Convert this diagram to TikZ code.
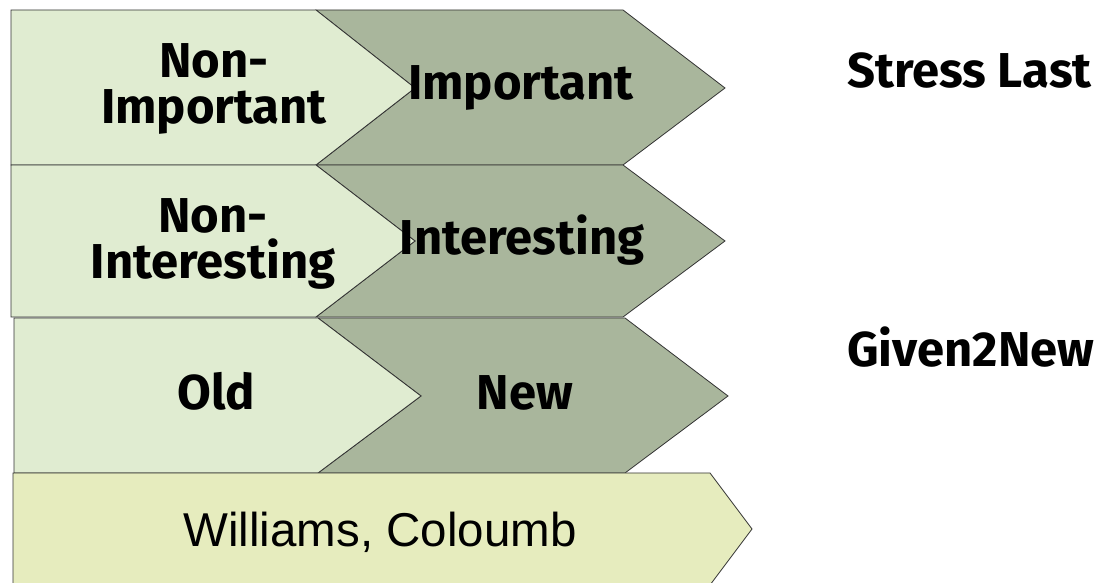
\documentclass[tikz,border=0pt]{standalone}
\usepackage{fontspec}
\setmainfont{Fira Sans}
\newfontfamily\arialfont{Liberation Sans}
\usepackage{xcolor}
\definecolor{oldgreen}{RGB}{224,236,209}
\definecolor{newgreen}{RGB}{169,182,156}
\definecolor{basegreen}{RGB}{230,236,190}
\tikzset{
  bigbold/.style={font=\fontsize{49}{46}\selectfont\bfseries, align=center, inner sep=0pt},
  plaintext/.style={font=\arialfont\fontsize{47.5}{50}\selectfont, inner sep=0pt},
  edge/.style={draw=black!80, line width=0.8pt, line join=miter}
}

\begin{document}
\begin{tikzpicture}[x=1pt,y=1pt]
\useasboundingbox (0,0) rectangle (1098,583);
\begin{scope}
\clip (0,0) rectangle (1098,583);
% row 1
\fill[newgreen] (316,573) -- (623,573) -- (725,495) -- (623,418) -- (316,418) -- (415,495) -- cycle;
\draw[edge] (316,573) -- (623,573) -- (725,495) -- (623,418) -- (316,418) -- (415,495) -- cycle;
\fill[oldgreen] (11,573) -- (316,573) -- (415,495) -- (316,418) -- (11,418) -- cycle;
\draw[edge] (11,573) -- (316,573) -- (415,495) -- (316,418) -- (11,418) -- cycle;
% row 2
\fill[newgreen] (316,418) -- (623,418) -- (725,342) -- (623,266) -- (316,266) -- (415,342) -- cycle;
\draw[edge] (316,418) -- (623,418) -- (725,342) -- (623,266) -- (316,266) -- (415,342) -- cycle;
\fill[oldgreen] (11,418) -- (316,418) -- (415,342) -- (316,266) -- (11,266) -- cycle;
\draw[edge] (11,418) -- (316,418) -- (415,342) -- (316,266) -- (11,266) -- cycle;
% row 3
\fill[newgreen] (318,265) -- (625,265) -- (728,187) -- (625,110) -- (318,110) -- (421,187) -- cycle;
\draw[edge] (318,265) -- (625,265) -- (728,187) -- (625,110) -- (318,110) -- (421,187) -- cycle;
\fill[oldgreen] (14,265) -- (318,265) -- (421,187) -- (318,110) -- (14,110) -- cycle;
\draw[edge] (14,265) -- (318,265) -- (421,187) -- (318,110) -- (14,110) -- cycle;
% base bar
\fill[basegreen] (13,110) -- (710,110) -- (752,54) -- (710,-2) -- (13,-2) -- cycle;
\draw[edge] (13,110) -- (710,110) -- (752,54) -- (710,-2) -- (13,-2) -- cycle;
\end{scope}
% labels
\node[bigbold] (nonimportant) at (214,494) {Non-\\Important};
\node[bigbold, anchor=base] (important) at (521,483) {Important};
\node[bigbold] (noninteresting) at (213,339) {Non-\\Interesting};
\node[bigbold, anchor=base] (interesting) at (522,328) {Interesting};
\node[bigbold, anchor=base] (old) at (216,173) {Old};
\node[bigbold, anchor=base] (new) at (525,173) {New};
\node[plaintext, anchor=base] (authors) at (380,36) {Williams, Coloumb};
\node[bigbold, anchor=base west] (stresslast) at (847,495) {Stress Last};
\node[bigbold, anchor=base west] (given2new) at (847,216) {Given2New};
\end{tikzpicture}
\end{document}
